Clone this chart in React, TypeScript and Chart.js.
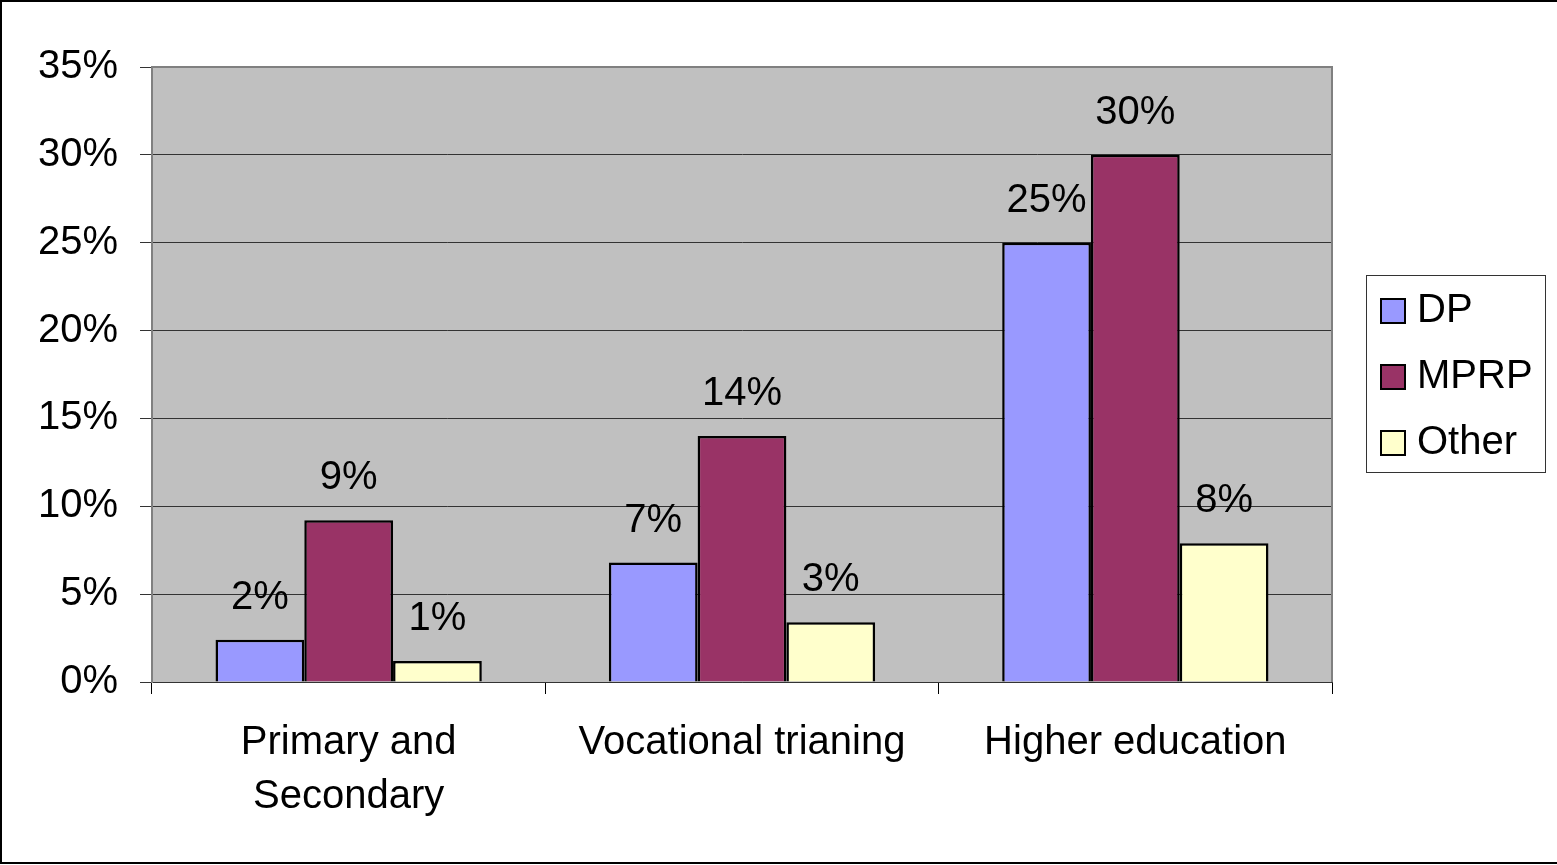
import React, { useEffect, useRef } from "react";
import { Chart, registerables } from "chart.js";

Chart.register(...registerables);

const categories: (string | string[])[] = [["Primary and", "Secondary"], "Vocational trianing", "Higher education"];
const seriesNames = ["DP", "MPRP", "Other"];
const dpValues = [2.4, 6.8, 25.0];
const mprpValues = [9.2, 14.0, 30.0];
const otherValues = [1.2, 3.4, 7.9];
const seriesColors = ["#9999FF", "#993366", "#FFFFCC"];
const yTicks = [0, 5, 10, 15, 20, 25, 30, 35];

const FONT = '"Liberation Sans", Arial, sans-serif';

const framePlugin = {
  id: "frame",
  beforeDraw(chart: any) {
    const { ctx, chartArea: a, width, height } = chart;
    ctx.save();
    ctx.fillStyle = "#FFFFFF";
    ctx.fillRect(0, 0, width, height);
    ctx.fillStyle = "#C0C0C0";
    ctx.fillRect(a.left, a.top, a.right - a.left, a.bottom - a.top);
    ctx.restore();
  },
  afterDraw(chart: any) {
    const { ctx, chartArea: a, width, height } = chart;
    ctx.save();
    ctx.strokeStyle = "#808080";
    ctx.lineWidth = 2;
    ctx.beginPath();
    ctx.moveTo(a.left, a.bottom);
    ctx.lineTo(a.left, a.top);
    ctx.lineTo(a.right, a.top);
    ctx.lineTo(a.right, a.bottom);
    ctx.stroke();
    ctx.strokeStyle = "#000";
    ctx.lineWidth = 2;
    ctx.beginPath();
    ctx.moveTo(width, 1);
    ctx.lineTo(1, 1);
    ctx.lineTo(1, height - 2);
    ctx.lineTo(width, height - 2);
    ctx.stroke();
    ctx.lineWidth = 1;
    ctx.strokeStyle = "#333";
    ctx.fillStyle = "#FFFFFF";
    ctx.fillRect(1366.5, 275.5, 179, 197);
    ctx.strokeRect(1366.5, 275.5, 179, 197);
    const centers = [311, 377, 443];
    ctx.font = `40px ${FONT}`;
    ctx.textBaseline = "alphabetic";
    ctx.textAlign = "left";
    seriesNames.forEach((name, i) => {
      const cy = centers[i];
      ctx.fillStyle = seriesColors[i];
      ctx.fillRect(1381, cy - 12, 24, 24);
      ctx.lineWidth = 2;
      ctx.strokeStyle = "#000";
      ctx.strokeRect(1381, cy - 12, 24, 24);
      ctx.fillStyle = "#000";
      ctx.fillText(name, 1417, cy + 11);
    });
    ctx.restore();
  },
  afterDatasetsDraw(chart: any) {
    const { ctx } = chart;
    ctx.save();
    ctx.font = `40px ${FONT}`;
    ctx.fillStyle = "#000";
    ctx.textAlign = "center";
    ctx.textBaseline = "alphabetic";
    chart.data.datasets.forEach((ds: any, di: number) => {
      const meta = chart.getDatasetMeta(di);
      meta.data.forEach((bar: any, i: number) => {
        const v = ds.data[i];
        ctx.fillText(`${Math.round(v)}%`, bar.x, bar.y - 31);
      });
    });
    ctx.restore();
  },
};

export default function App() {
  const ref = useRef<HTMLCanvasElement>(null);
  useEffect(() => {
    if (!ref.current) return;
    const seriesValues = [dpValues, mprpValues, otherValues];
    const chart = new Chart(ref.current, {
      type: "bar",
      data: {
        labels: categories,
        datasets: seriesNames.map((name, i) => ({
          label: name,
          data: seriesValues[i],
          backgroundColor: seriesColors[i],
          borderColor: "#000",
          borderWidth: 2.5,
          categoryPercentage: 0.677,
          barPercentage: 1,
        })),
      },
      options: {
        responsive: false,
        animation: false,
        layout: { padding: { top: 67, right: 225, left: 0, bottom: 0 } },
        plugins: { legend: { display: false }, tooltip: { enabled: false } },
        scales: {
          x: {
            grid: { display: true, drawOnChartArea: false, drawTicks: true, tickLength: 12, color: "#000", offset: true },
            border: { display: true, color: "#333", width: 1 },
            ticks: {
              color: "#000",
              padding: 22,
              font: { family: FONT, size: 40, lineHeight: 1.35 },
              maxRotation: 0,
              autoSkip: false,
            },
            afterFit(scale: any) {
              scale.height = 183;
            },
          },
          y: {
            min: 0,
            max: 35,
            afterBuildTicks(scale: any) {
              scale.ticks = yTicks.map((v) => ({ value: v }));
            },
            grid: { color: "#333", lineWidth: 1, tickLength: 12, drawTicks: true },
            border: { display: true, color: "#808080", width: 2 },
            ticks: {
              color: "#000",
              padding: 22,
              font: { family: FONT, size: 40 },
              callback: (v: any) => `${v}%`,
            },
            afterFit(scale: any) {
              scale.width = 152;
            },
          },
        },
      },
      plugins: [framePlugin],
    });
    return () => chart.destroy();
  }, []);
  return (
    <div style={{ position: "fixed", left: 0, top: 0, width: 1557, height: 865, background: "#fff" }}>
      <canvas ref={ref} width={1557} height={865} style={{ display: "block" }} />
    </div>
  );
}
